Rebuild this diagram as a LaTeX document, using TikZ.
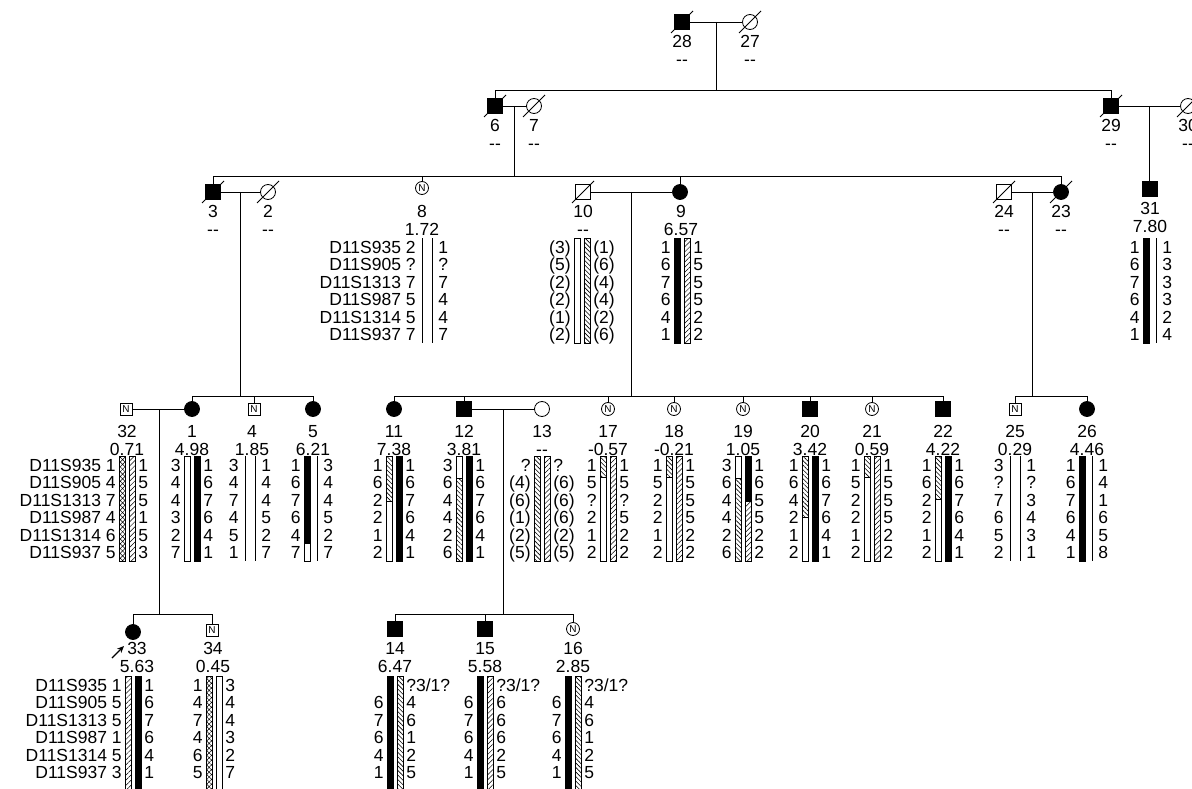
\documentclass[tikz,border=0pt]{standalone}
\usepackage{fontspec}
\setmainfont{Liberation Sans}
\usetikzlibrary{positioning,calc,patterns.meta,arrows.meta}

% row pitch of the marker table
\newcommand{\rowsep}{17.5}
\newcommand{\unk}{?3/1?}

% allele numbers either side of the bars
\newcommand{\alleles}[3]{%
	\foreach \la/\ra [count=\i from 0] in {#3}{
		\node[allele,anchor=east] (hl-#1-\i) at (#1-11,#2+\i*\rowsep) {\la};
		\node[allele,anchor=west] (hr-#1-\i) at (#1+11,#2+\i*\rowsep) {\ra};
	}}

% one bar, cut into segments style/from/to (in rows)
\newcommand{\hapbar}[3]{%
	\foreach \st/\fr/\tr in {#3}{
		\draw[\st] (#1,#2+\fr*\rowsep) rectangle (#1+6,#2+\tr*\rowsep);
	}}

% centre x, first row y, alleles, left bar, right bar
\newcommand{\haplo}[5]{%
	\alleles{#1}{#2}{#3}
	\hapbar{#1-8}{#2-9}{#4}
	\hapbar{#1+2}{#2-9}{#5}}

% marker names
\newcommand{\markers}[2]{%
	\foreach \mk [count=\i from 0] in {D11S935,D11S905,D11S1313,D11S987,D11S1314,D11S937}{
		\node[allele,anchor=east] (mk-#1-\i) at (#1-25.5,#2+\i*\rowsep) {\mk};
	}}

% id number and lod score under a symbol
\newcommand{\idlod}[4]{%
	\node[idtxt] (l#3) at (#1,#2) {#3};
	\node[idtxt] (d#3) at (#1,#2+18) {#4};}

% deceased slash
\newcommand{\deceased}[1]{%
	\draw[slash] ($(#1)+(-11,11)$) -- ($(#1)+(11,-11)$);}

\begin{document}
\begin{tikzpicture}[
	x=1pt, y=-1pt, line width=.8pt,
	asq/.style={draw, fill=black, minimum size=15pt, inner sep=0pt},
	usq/.style={draw, fill=white, minimum size=15pt, inner sep=0pt},
	acirc/.style={circle, draw, fill=black, minimum size=15pt, inner sep=0pt},
	ucirc/.style={circle, draw, fill=white, minimum size=15pt, inner sep=0pt},
	nsq/.style={draw, fill=white, minimum size=12pt, inner sep=0pt, font=\fontsize{10}{10}\selectfont},
	ncirc/.style={circle, draw, fill=white, minimum size=13pt, inner sep=0pt, font=\fontsize{10}{10}\selectfont},
	idtxt/.style={inner sep=0pt, text height=12.5pt, text depth=0pt, font=\fontsize{17.5}{17.5}\selectfont},
	allele/.style={inner sep=0pt, text height=12.5pt, text depth=0pt, font=\fontsize{17.5}{17.5}\selectfont},
	slash/.style={line width=.8pt},
	kbar/.style={draw, fill=black},
	wbar/.style={draw, fill=white},
	bbar/.style={draw, pattern={Lines[angle=-45,distance=3.2pt,line width=.6pt]}},
	fbar/.style={draw, pattern={Lines[angle=45,distance=3.6pt,line width=.5pt]}},
	xbar/.style={draw, pattern={Hatch[angle=45,distance=3.4pt,line width=.5pt]}},
	lbar/.style={draw=none, path picture={\draw[line width=.8pt] (path picture bounding box.north) -- (path picture bounding box.south);}}
	]
	
	\clip (0,0) rectangle (1192,789);
	
	% ---------------------------------------------------------
	% GENERATION I
	% ---------------------------------------------------------
	
	\node[asq] (n28) at (682,22) {};
	\node[ucirc] (n27) at (750,22) {};
	\deceased{n28}
	\deceased{n27}
	\idlod{682}{41}{28}{-{}-}
	\idlod{750}{41}{27}{-{}-}
	\draw (n28) -- (n27);
	\coordinate (m28) at ($(n28)!0.5!(n27)$);
	\coordinate (s28) at (m28 |- 0,90);
	
	% ---------------------------------------------------------
	% GENERATION II
	% ---------------------------------------------------------
	
	\node[asq] (n6) at (495,106) {};
	\node[ucirc] (n7) at (534,106) {};
	\node[asq] (n29) at (1111,106) {};
	\node[ucirc] (n30) at (1188,106) {};
	\deceased{n6}
	\deceased{n7}
	\deceased{n29}
	\deceased{n30}
	\idlod{495}{125}{6}{-{}-}
	\idlod{534}{125}{7}{-{}-}
	\idlod{1111}{125}{29}{-{}-}
	\idlod{1188}{125}{30}{-{}-}
	\draw (n6) -- (n7);
	\draw (n29) -- (n30);
	\coordinate (m6) at ($(n6)!0.5!(n7)$);
	\coordinate (m29) at ($(n29)!0.5!(n30)$);
	\coordinate (s6) at (m6 |- 0,176);
	
	\draw (m28) -- (s28);
	\draw (n6.north) -- (n6.north |- s28) -- (n29.north |- s28) -- (n29.north);
	
	% ---------------------------------------------------------
	% GENERATION III
	% ---------------------------------------------------------
	
	\node[asq] (n3) at (213,192) {};
	\node[ucirc] (n2) at (268,192) {};
	\node[ncirc] (n8) at (422,188) {N};
	\node[usq] (n10) at (583,192) {};
	\node[acirc] (n9) at (680,192) {};
	\node[usq] (n24) at (1004,192) {};
	\node[acirc] (n23) at (1061,192) {};
	\node[asq] (n31) at (1150,189) {};
	\deceased{n3}
	\deceased{n2}
	\deceased{n10}
	\deceased{n24}
	\deceased{n23}
	\idlod{213}{211}{3}{-{}-}
	\idlod{268}{211}{2}{-{}-}
	\idlod{422}{211}{8}{1.72}
	\idlod{583}{211}{10}{-{}-}
	\idlod{681}{211}{9}{6.57}
	\idlod{1004}{211}{24}{-{}-}
	\idlod{1061}{211}{23}{-{}-}
	\idlod{1150}{208}{31}{7.80}
	
	\draw (m6) -- (s6);
	\draw (n3.north) -- (n3.north |- s6) -- (n23.north |- s6) -- (n23.north);
	\draw (n8.north) -- (n8.north |- s6);
	\draw (n9.north) -- (n9.north |- s6);
	\draw (m29) -- (m29 |- n31.north);
	
	\draw (n3) -- (n2);
	\draw (n10) -- (n9);
	\draw (n24) -- (n23);
	\coordinate (m3) at ($(n3)!0.5!(n2)$);
	\coordinate (m10) at ($(n10)!0.5!(n9)$);
	\coordinate (m24) at ($(n24)!0.5!(n23)$);
	
	\markers{427}{247}
	\haplo{427}{247}{2/1,?/?,7/7,5/4,5/4,7/7}{lbar/0/6}{lbar/0/6}
	\haplo{582}{247}{(3)/(1),(5)/(6),(2)/(4),(2)/(4),(1)/(2),(2)/(6)}{wbar/0/6}{bbar/0/6}
	\haplo{682}{247}{1/1,6/5,7/5,6/5,4/2,1/2}{kbar/0/6}{fbar/0/6}
	\haplo{1151}{247}{1/1,6/3,7/3,6/3,4/2,1/4}{kbar/0/6}{lbar/0/6}
	
	% ---------------------------------------------------------
	% GENERATION IV
	% ---------------------------------------------------------
	
	\node[nsq] (n32) at (126,409) {N};
	\node[acirc] (n1) at (192,409) {};
	\node[nsq] (n4) at (254,409) {N};
	\node[acirc] (n5) at (313,409) {};
	\node[acirc] (n11) at (394,409) {};
	\node[asq] (n12) at (464,409) {};
	\node[ucirc] (n13) at (542,409) {};
	\node[ncirc] (n17) at (608,409) {N};
	\node[ncirc] (n18) at (674,409) {N};
	\node[ncirc] (n19) at (743,409) {N};
	\node[asq] (n20) at (810,409) {};
	\node[ncirc] (n21) at (872,409) {N};
	\node[asq] (n22) at (943,409) {};
	\node[nsq] (n25) at (1015,409) {N};
	\node[acirc] (n26) at (1087,409) {};
	\idlod{127}{431}{32}{0.71}
	\idlod{192}{431}{1}{4.98}
	\idlod{252}{431}{4}{1.85}
	\idlod{313}{431}{5}{6.21}
	\idlod{394}{431}{11}{7.38}
	\idlod{464}{431}{12}{3.81}
	\idlod{542}{431}{13}{-{}-}
	\idlod{608}{431}{17}{-0.57}
	\idlod{674}{431}{18}{-0.21}
	\idlod{743}{431}{19}{1.05}
	\idlod{810}{431}{20}{3.42}
	\idlod{872}{431}{21}{0.59}
	\idlod{943}{431}{22}{4.22}
	\idlod{1015}{431}{25}{0.29}
	\idlod{1087}{431}{26}{4.46}
	
	\coordinate (s3) at (m3 |- 0,396);
	\coordinate (s10) at (m10 |- 0,396);
	\coordinate (s24) at (m24 |- 0,396);
	\draw (m3) -- (s3);
	\draw (n1.north) -- (n1.north |- s3) -- (n5.north |- s3) -- (n5.north);
	\draw (n4.north) -- (n4.north |- s3);
	\draw (m10) -- (s10);
	\draw (n11.north) -- (n11.north |- s10) -- (n22.north |- s10) -- (n22.north);
	\foreach \k in {12,17,18,19,20,21}
		\draw (n\k.north) -- (n\k.north |- s10);
	\draw (m24) -- (s24);
	\draw (n25.north) -- (n25.north |- s24) -- (n26.north |- s24) -- (n26.north);
	
	\draw (n32) -- (n1);
	\draw (n12) -- (n13);
	\coordinate (m32) at ($(n32)!0.5!(n1)$);
	\coordinate (m12) at ($(n12)!0.5!(n13)$);
	
	\markers{127}{465}
	\haplo{127}{465}{1/1,4/5,7/5,4/1,6/5,5/3}{xbar/0/6}{fbar/0/6}
	\haplo{192}{465}{3/1,4/6,4/7,3/6,2/4,7/1}{wbar/0/6}{kbar/0/6}
	\haplo{250}{465}{3/1,4/4,7/4,4/5,5/2,1/7}{lbar/0/6}{lbar/0/6}
	\haplo{312}{465}{1/3,6/4,7/4,6/5,4/2,7/7}{kbar/0/5,wbar/5/6}{lbar/0/6}
	\haplo{394}{465}{1/1,6/6,2/7,2/6,1/4,2/1}{bbar/0/2.6,wbar/2.6/6}{kbar/0/6}
	\haplo{464}{465}{3/1,6/6,4/7,4/6,2/4,6/1}{wbar/0/1.3,bbar/1.3/6}{kbar/0/6}
	\haplo{542}{465}{?/?,(4)/(6),(6)/(6),(1)/(6),(2)/(2),(5)/(5)}{bbar/0/6}{fbar/0/6}
	\haplo{608}{465}{1/1,5/5,?/?,2/5,1/2,2/2}{bbar/0/1.2,wbar/1.2/6}{fbar/0/6}
	\haplo{674}{465}{1/1,5/5,2/5,2/5,1/2,2/2}{bbar/0/1.2,wbar/1.2/6}{fbar/0/6}
	\haplo{743}{465}{3/1,6/6,4/5,4/5,2/2,6/2}{wbar/0/1.3,bbar/1.3/6}{kbar/0/2.6,fbar/2.6/6}
	\haplo{810}{465}{1/1,6/6,4/7,2/6,1/4,2/1}{bbar/0/3.5,wbar/3.5/6}{kbar/0/6}
	\haplo{872}{465}{1/1,5/5,2/5,2/5,1/2,2/2}{bbar/0/1.2,wbar/1.2/6}{fbar/0/6}
	\haplo{943}{465}{1/1,6/6,2/7,2/6,1/4,2/1}{bbar/0/2.5,wbar/2.5/6}{kbar/0/6}
	\haplo{1015}{465}{3/1,?/?,7/3,6/4,5/3,2/1}{lbar/0/6}{lbar/0/6}
	\haplo{1087}{465}{1/1,6/4,7/1,6/6,4/5,1/8}{kbar/0/6}{lbar/0/6}
	
	% ---------------------------------------------------------
	% GENERATION V
	% ---------------------------------------------------------
	
	\node[acirc] (n33) at (133,632) {};
	\node[nsq] (n34) at (212,630) {N};
	\node[asq] (n14) at (395,629) {};
	\node[asq] (n15) at (485,629) {};
	\node[ncirc] (n16) at (573,629) {N};
	\idlod{137}{648}{33}{5.63}
	\idlod{213}{648}{34}{0.45}
	\idlod{395}{648}{14}{6.47}
	\idlod{485}{648}{15}{5.58}
	\idlod{573}{648}{16}{2.85}
	
	% proband
	\coordinate (a33) at (112,658);
	\coordinate (b33) at (124,646);
	\draw[-{Stealth[length=7pt,width=6pt]}, line width=1.4pt] (a33) -- (b33);
	
	\coordinate (s32) at (m32 |- 0,614);
	\coordinate (s12) at (m12 |- 0,614);
	\draw (m32) -- (s32);
	\draw (n33.north) -- (n33.north |- s32) -- (n34.north |- s32) -- (n34.north);
	\draw (m12) -- (s12);
	\draw (n14.north) -- (n14.north |- s12) -- (n16.north |- s12) -- (n16.north);
	\draw (n15.north) -- (n15.north |- s12);
	
	\markers{133}{685}
	\haplo{133}{685}{1/1,5/6,5/7,1/6,5/4,3/1}{fbar/0/6.8}{kbar/0/6.8}
	\haplo{214}{685}{1/3,4/4,7/4,4/3,6/2,5/7}{xbar/0/6.8}{wbar/0/6.8}
	\haplo{395}{685}{{}/\unk,6/4,7/6,6/1,4/2,1/5}{kbar/0/6.8}{bbar/0/6.8}
	\haplo{485}{685}{{}/\unk,6/6,7/6,6/6,4/2,1/5}{kbar/0/6.8}{fbar/0/6.8}
	\haplo{573}{685}{{}/\unk,6/4,7/6,6/1,4/2,1/5}{kbar/0/6.8}{bbar/0/6.8}
	
\end{tikzpicture}
\end{document}
